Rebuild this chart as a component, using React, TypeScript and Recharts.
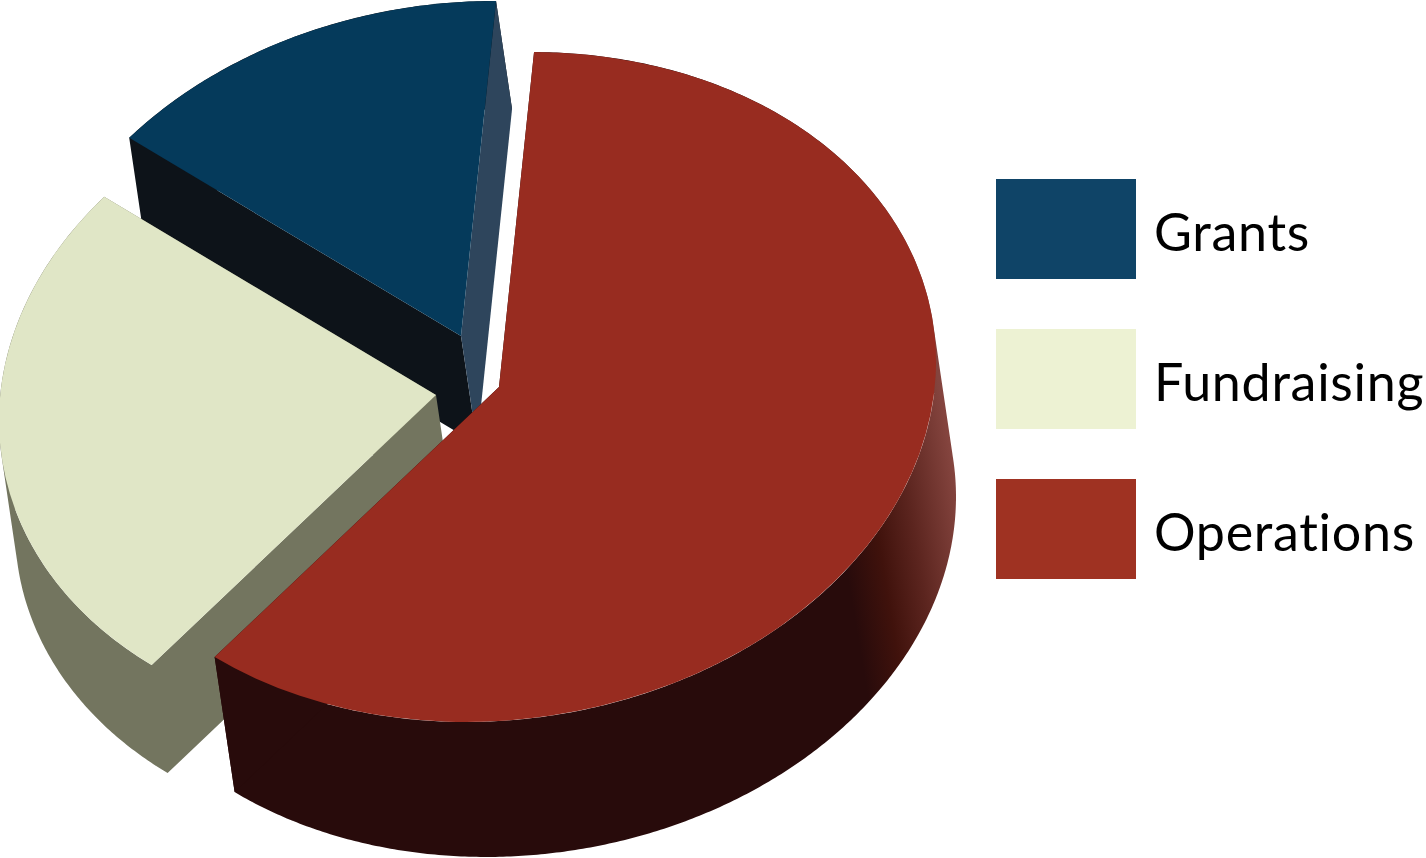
import React from "react";
import { Legend, Pie, PieChart, Sector } from "recharts";

// slices, back to front
const categories = ["Grants", "Fundraising", "Operations"];
const shares = [15, 25, 60];
const legendColors = ["#0f4467", "#edf2d3", "#9f3222"];

const topColors = ["#053a5b", "#e0e6c6", "#982c20"];
const rimColors = ["#0d1319", "#73755f", "url(#rimShade)"];
const startFaceColors = ["#2e455c", "#73755f", "#280b0b"];
const endFaceColors = ["#0d1319", "#73755f", "#280b0b"];

// how far each slice is pulled out of the pie, and how thick it is
const explodeX = [-38, -63, 0];
const explodeY = [-51, 8, 0];
const depthX = [16, 16, 20];
const depthY = [108, 108, 135];

const RADIUS = 334;
// tilt of the disc: circle -> ellipse
const TILT_A = 437 / RADIUS;
const TILT_B = -25.3 / RADIUS;

const chartData = categories.map((name, i) => ({
  name,
  value: shares[i],
  fill: legendColors[i],
}));

const RAD = Math.PI / 180;

type Pt = [number, number];

// one subpath, always wound the same way so overlaps stay filled
const quadPath = (pts: Pt[]) => {
  let area = 0;
  pts.forEach((p, k) => {
    const q = pts[(k + 1) % pts.length];
    area += p[0] * q[1] - q[0] * p[1];
  });
  const ordered = area < 0 ? [...pts].reverse() : pts;
  return "M" + ordered.map((p) => p[0].toFixed(2) + "," + p[1].toFixed(2)).join("L") + "Z";
};

const SliceShape = (props: any) => {
  const { cx, cy, outerRadius, startAngle, endAngle, name } = props;
  const i = categories.indexOf(name);
  const ox = cx + explodeX[i];
  const oy = cy + explodeY[i];
  const dx = depthX[i];
  const dy = depthY[i];

  const project = (deg: number): Pt => {
    const x = outerRadius * Math.cos(deg * RAD);
    const y = -outerRadius * Math.sin(deg * RAD);
    return [ox + TILT_A * x, oy + TILT_B * x + y];
  };
  const sweep = (a: Pt, b: Pt) => quadPath([a, b, [b[0] + dx, b[1] + dy], [a[0] + dx, a[1] + dy]]);

  const arc: Pt[] = [];
  const steps = Math.ceil(Math.abs(endAngle - startAngle) * 2);
  for (let s = 0; s <= steps; s++) {
    arc.push(project(startAngle + ((endAngle - startAngle) * s) / steps));
  }
  const apex: Pt = [ox, oy];

  // faces sharing a colour go in one path, that way no seam shows between them
  const walls: Record<string, string> = {};
  const add = (color: string, d: string) => {
    walls[color] = (walls[color] || "") + d;
  };
  arc.slice(1).forEach((p, k) => add(rimColors[i], sweep(arc[k], p)));
  add(startFaceColors[i], sweep(apex, arc[0]));
  add(endFaceColors[i], sweep(apex, arc[arc.length - 1]));

  return (
    <g>
      <defs>
        <linearGradient id="rimShade" gradientUnits="userSpaceOnUse" x1="835" y1="500" x2="955" y2="480">
          <stop offset="0" stopColor="#280b0b" />
          <stop offset="0.3" stopColor="#40120c" />
          <stop offset="0.6" stopColor="#5c251f" />
          <stop offset="1" stopColor="#84443e" />
        </linearGradient>
      </defs>
      {Object.keys(walls).map((color) => (
        <path key={color} d={walls[color]} fill={color} />
      ))}
      <g transform={`matrix(${TILT_A} ${TILT_B} 0 1 ${ox - TILT_A * cx} ${oy - TILT_B * cx - cy})`}>
        <Sector
          cx={cx}
          cy={cy}
          innerRadius={0}
          outerRadius={outerRadius}
          startAngle={startAngle}
          endAngle={endAngle}
          fill={topColors[i]}
          stroke="none"
        />
      </g>
    </g>
  );
};

const LegendBox = ({ payload }: any) => (
  <div>
    {(payload || []).map((entry: any) => (
      <div
        key={entry.value}
        style={{ display: "flex", alignItems: "center", height: 100, marginBottom: 50 }}
      >
        <div style={{ width: 140, height: 100, background: entry.color }} />
        <span
          style={{
            marginLeft: 18,
            fontFamily: "Lato, sans-serif",
            fontWeight: 400,
            fontSize: 52,
            letterSpacing: 0.7,
            fontVariantLigatures: "none",
            color: "#000",
            position: "relative",
            top: 2,
            whiteSpace: "nowrap",
          }}
        >
          {entry.value}
        </span>
      </div>
    ))}
  </div>
);

export default function App() {
  return (
    <div style={{ position: "absolute", left: 0, top: 0, width: 1426, height: 858 }}>
      <PieChart width={1426} height={858} margin={{ top: 0, right: 0, bottom: 0, left: 0 }}>
        <Pie
          data={chartData}
          dataKey="value"
          nameKey="name"
          cx={499}
          cy={387}
          innerRadius={0}
          outerRadius={RADIUS}
          startAngle={85.4}
          endAngle={445.4}
          stroke="none"
          shape={SliceShape}
          isAnimationActive={false}
        />
        <Legend
          layout="vertical"
          align="right"
          verticalAlign="top"
          itemSorter={null}
          content={<LegendBox />}
          wrapperStyle={{ left: 996, top: 179, right: "auto", width: 430 }}
        />
      </PieChart>
    </div>
  );
}
